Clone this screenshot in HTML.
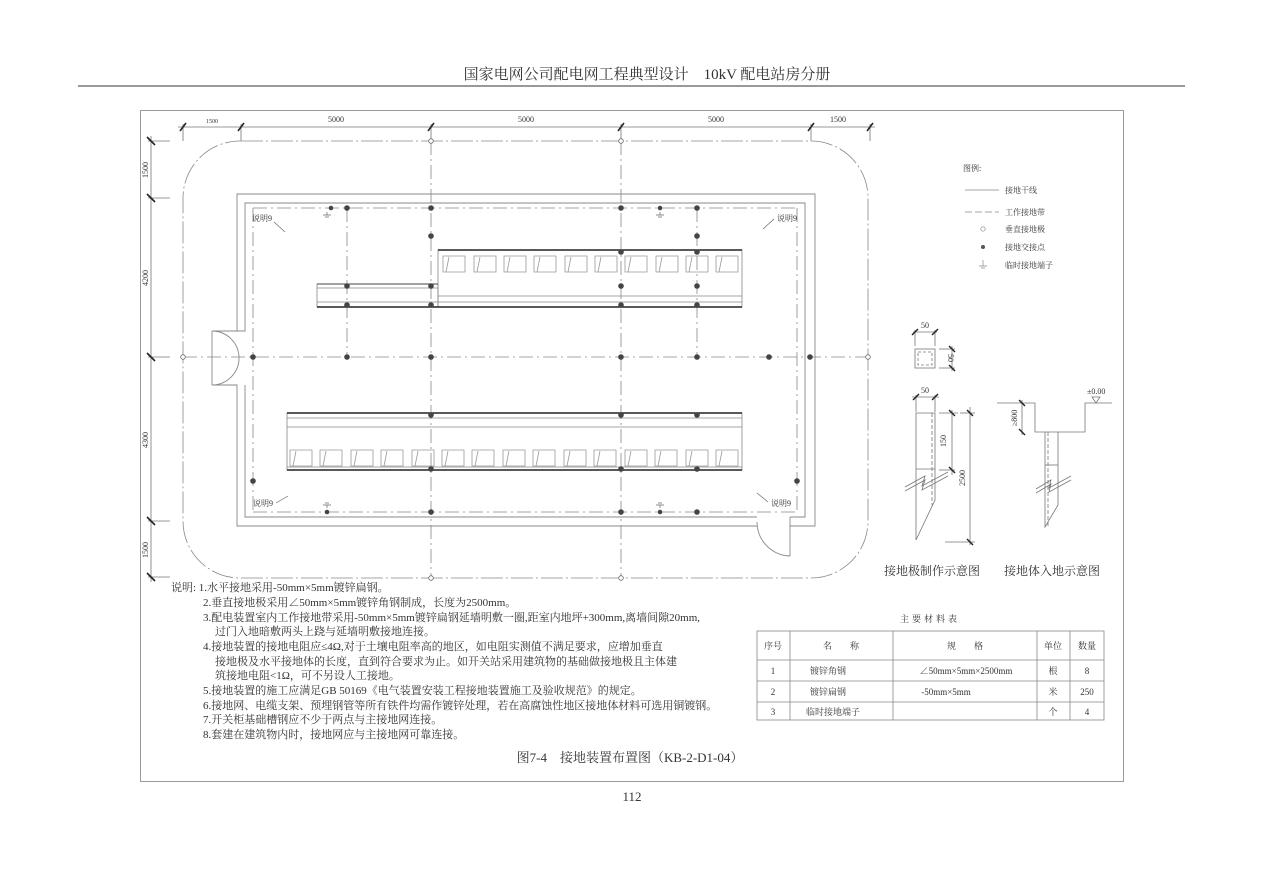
<!DOCTYPE html>
<html><head><meta charset="utf-8"><style>
html,body{margin:0;padding:0;background:#fff}
svg{display:block}
text{font-family:"Liberation Serif","Noto Serif CJK SC","Noto Sans CJK SC",serif;fill:#333}
</style></head><body>
<svg width="1263" height="892" viewBox="0 0 1263 892" xmlns="http://www.w3.org/2000/svg">
<text x="647" y="79" font-size="15" text-anchor="middle">国家电网公司配电网工程典型设计　10kV 配电站房分册</text>
<line x1="78" y1="86" x2="1185" y2="86" stroke="#333" stroke-width="1"/>
<rect x="140.5" y="110.5" width="983" height="671" fill="none" stroke="#999"/>
<text x="632" y="801" font-size="13" text-anchor="middle">112</text>

<g stroke="#777" stroke-width="0.8">
<line x1="178" y1="127" x2="875" y2="127"/>
<line x1="183" y1="124" x2="183" y2="141"/><line x1="241" y1="124" x2="241" y2="141"/>
<line x1="431" y1="124" x2="431" y2="141"/><line x1="621" y1="124" x2="621" y2="141"/>
<line x1="811" y1="124" x2="811" y2="141"/><line x1="870" y1="124" x2="870" y2="141"/>
<line x1="151" y1="136" x2="151" y2="582"/>
<line x1="148" y1="141" x2="170" y2="141"/><line x1="148" y1="198" x2="170" y2="198"/>
<line x1="148" y1="357" x2="170" y2="357"/><line x1="148" y1="521" x2="170" y2="521"/>
<line x1="148" y1="577" x2="170" y2="577"/>
</g>
<g stroke="#222" stroke-width="1.6">
<line x1="180" y1="131" x2="186" y2="123"/><line x1="238" y1="131" x2="244" y2="123"/>
<line x1="428" y1="131" x2="434" y2="123"/><line x1="618" y1="131" x2="624" y2="123"/>
<line x1="808" y1="131" x2="814" y2="123"/><line x1="867" y1="131" x2="873" y2="123"/>
<line x1="147" y1="137" x2="155" y2="145"/><line x1="147" y1="194" x2="155" y2="202"/>
<line x1="147" y1="353" x2="155" y2="361"/><line x1="147" y1="517" x2="155" y2="525"/>
<line x1="147" y1="573" x2="155" y2="581"/>
</g>
<g font-size="8">
<text x="212" y="123" text-anchor="middle" font-size="6">1500</text>
<text x="336" y="122" text-anchor="middle">5000</text>
<text x="526" y="122" text-anchor="middle">5000</text>
<text x="716" y="122" text-anchor="middle">5000</text>
<text x="838" y="122" text-anchor="middle">1500</text>
<text transform="translate(148,170) rotate(-90)" text-anchor="middle">1500</text>
<text transform="translate(148,278) rotate(-90)" text-anchor="middle">4200</text>
<text transform="translate(148,440) rotate(-90)" text-anchor="middle">4300</text>
<text transform="translate(148,550) rotate(-90)" text-anchor="middle">1500</text>
</g>

<path d="M241,141 H811 A57,57 0 0 1 868,198 V521 A57,57 0 0 1 811,578 H241 A57,57 0 0 1 183,521 V198 A57,57 0 0 1 241,141 Z" fill="none" stroke="#888" stroke-width="0.8" stroke-dasharray="22,3,2,3"/>
<g stroke="#888" stroke-width="0.8" stroke-dasharray="14,4,2,4" fill="none">
<line x1="183" y1="357" x2="868" y2="357"/>
<line x1="431" y1="141" x2="431" y2="578"/>
<line x1="621" y1="141" x2="621" y2="578"/>
<line x1="347" y1="208" x2="347" y2="357"/>
<line x1="697" y1="208" x2="697" y2="357"/>
<line x1="253" y1="208" x2="253" y2="512"/>
<line x1="797" y1="208" x2="797" y2="512"/>
<line x1="253" y1="208" x2="797" y2="208"/>
<line x1="253" y1="512" x2="797" y2="512"/>
</g>
<g stroke="#888" stroke-width="0.9" fill="none">
<path d="M212,331 H237 V194 H815 V526 H790"/>
<path d="M237,331 H245 V203 H805 V517 H790"/>
<path d="M757,526 H237 V385 H212"/>
<path d="M757,517 H245 V385"/>
<line x1="212" y1="331" x2="212" y2="385"/>
<path d="M212,331 A27,27 0 0 1 239,357"/>
<path d="M212,385 A27,27 0 0 0 239,357"/>
<line x1="790" y1="517" x2="790" y2="556"/>
<path d="M757,522 A34,34 0 0 0 790,556"/>
</g>

<g stroke="#888" stroke-width="0.8" fill="none">
<rect x="438" y="250" width="304" height="57"/>
<line x1="438" y1="296" x2="742" y2="296"/>
<rect x="317" y="284" width="121" height="23"/>
<line x1="317" y1="288" x2="438" y2="288"/>
<line x1="317" y1="302" x2="742" y2="302"/>
</g>
<line x1="438" y1="250" x2="742" y2="250" stroke="#222" stroke-width="1.6"/>
<line x1="317" y1="307" x2="742" y2="307" stroke="#222" stroke-width="1.4"/>
<line x1="317" y1="284" x2="438" y2="284" stroke="#444" stroke-width="1"/>
<g stroke="#999" stroke-width="0.8" fill="none">
<path d="M443,256 h22 v16 h-22 z M446,272 l3,-15 M474,256 h22 v16 h-22 z M477,272 l3,-15 M504,256 h22 v16 h-22 z M507,272 l3,-15 M534,256 h22 v16 h-22 z M537,272 l3,-15 M565,256 h22 v16 h-22 z M568,272 l3,-15 M595,256 h22 v16 h-22 z M598,272 l3,-15 M625,256 h22 v16 h-22 z M628,272 l3,-15 M656,256 h22 v16 h-22 z M659,272 l3,-15 M686,256 h22 v16 h-22 z M689,272 l3,-15 M716,256 h22 v16 h-22 z M719,272 l3,-15"/>
</g>
<g stroke="#888" stroke-width="0.8" fill="none">
<rect x="287" y="413" width="455" height="57"/>
<line x1="287" y1="418" x2="742" y2="418"/>
<line x1="287" y1="427" x2="742" y2="427"/>
<line x1="287" y1="467" x2="742" y2="467"/>
</g>
<line x1="287" y1="413" x2="742" y2="413" stroke="#222" stroke-width="1.6"/>
<line x1="287" y1="470" x2="742" y2="470" stroke="#222" stroke-width="1.6"/>
<g stroke="#999" stroke-width="0.8" fill="none">
<path d="M290,450 h22 v16 h-22 z M293,466 l3,-15 M320,450 h22 v16 h-22 z M323,466 l3,-15 M351,450 h22 v16 h-22 z M354,466 l3,-15 M381,450 h22 v16 h-22 z M384,466 l3,-15 M412,450 h22 v16 h-22 z M415,466 l3,-15 M442,450 h22 v16 h-22 z M445,466 l3,-15 M472,450 h22 v16 h-22 z M475,466 l3,-15 M503,450 h22 v16 h-22 z M506,466 l3,-15 M533,450 h22 v16 h-22 z M536,466 l3,-15 M564,450 h22 v16 h-22 z M567,466 l3,-15 M594,450 h22 v16 h-22 z M597,466 l3,-15 M625,450 h22 v16 h-22 z M628,466 l3,-15 M655,450 h22 v16 h-22 z M658,466 l3,-15 M686,450 h22 v16 h-22 z M689,466 l3,-15 M716,450 h22 v16 h-22 z M719,466 l3,-15"/>
</g>

<g fill="#444">
<circle cx="331" cy="208" r="2.3"/><circle cx="347" cy="208" r="2.8"/><circle cx="431" cy="208" r="2.8"/>
<circle cx="621" cy="208" r="2.8"/><circle cx="660" cy="208" r="2.3"/><circle cx="697" cy="208" r="2.8"/>
<circle cx="431" cy="236" r="2.8"/><circle cx="697" cy="236" r="2.8"/>
<circle cx="621" cy="252" r="2.8"/><circle cx="697" cy="252" r="2.8"/>
<circle cx="347" cy="286" r="2.8"/><circle cx="431" cy="286" r="2.8"/><circle cx="621" cy="286" r="2.8"/><circle cx="697" cy="286" r="2.8"/>
<circle cx="347" cy="305" r="2.8"/><circle cx="431" cy="305" r="2.8"/><circle cx="621" cy="305" r="2.8"/><circle cx="697" cy="305" r="2.8"/>
<circle cx="253" cy="357" r="2.8"/><circle cx="347" cy="357" r="2.8"/><circle cx="431" cy="357" r="2.8"/>
<circle cx="621" cy="357" r="2.8"/><circle cx="697" cy="357" r="2.8"/><circle cx="769" cy="357" r="2.8"/><circle cx="810" cy="357" r="2.8"/>
<circle cx="431" cy="415" r="2.8"/><circle cx="621" cy="415" r="2.8"/><circle cx="697" cy="415" r="2.8"/>
<circle cx="431" cy="469" r="2.8"/><circle cx="621" cy="469" r="2.8"/><circle cx="697" cy="469" r="2.8"/>
<circle cx="253" cy="481" r="2.8"/><circle cx="797" cy="481" r="2.8"/>
<circle cx="327" cy="512" r="2.3"/><circle cx="431" cy="512" r="2.8"/><circle cx="621" cy="512" r="2.8"/>
<circle cx="660" cy="512" r="2.3"/><circle cx="697" cy="512" r="2.8"/>
</g>
<g fill="#fff" stroke="#666" stroke-width="0.8">
<circle cx="431" cy="141" r="2.3"/><circle cx="621" cy="141" r="2.3"/>
<circle cx="431" cy="578" r="2.3"/><circle cx="621" cy="578" r="2.3"/>
<circle cx="183" cy="357" r="2.3"/><circle cx="868" cy="357" r="2.3"/>
</g>
<g stroke="#666" stroke-width="0.7" fill="none">
<path d="M327,212 v3 M323,215 h8 M325,217 h4"/><path d="M660,212 v3 M656,215 h8 M658,217 h4"/>
<path d="M327,508 v-3 M323,505 h8 M325,503 h4"/><path d="M660,508 v-3 M656,505 h8 M658,503 h4"/>
<line x1="274" y1="222" x2="285" y2="232"/><line x1="763" y1="229" x2="774" y2="219"/>
<line x1="276" y1="503" x2="288" y2="496"/><line x1="757" y1="493" x2="768" y2="502"/>
</g>
<g font-size="8">
<text x="252" y="221">说明9</text><text x="777" y="221">说明9</text>
<text x="253" y="506">说明9</text><text x="771" y="506">说明9</text>
</g>

<g font-size="8">
<text x="963" y="171">图例:</text>
<text x="1005" y="193">接地干线</text>
<text x="1005" y="215">工作接地带</text>
<text x="1005" y="232">垂直接地极</text>
<text x="1005" y="250">接地交接点</text>
<text x="1005" y="268">临时接地端子</text>
</g>
<line x1="965" y1="190" x2="999" y2="190" stroke="#888" stroke-width="0.8"/>
<line x1="965" y1="212" x2="999" y2="212" stroke="#888" stroke-width="0.8" stroke-dasharray="7,3"/>
<circle cx="983" cy="229" r="2.2" fill="none" stroke="#888" stroke-width="0.7"/>
<circle cx="983" cy="247" r="2" fill="#555"/>
<path d="M983,260 v6 M979,266 h8 M981,268 h4" stroke="#888" stroke-width="0.7" fill="none"/>

<g stroke="#777" stroke-width="0.8" fill="none">
<rect x="915" y="349" width="20" height="19"/>
<rect x="918" y="352" width="14" height="13" stroke-dasharray="3,2"/>
<line x1="913" y1="332" x2="937" y2="332"/><line x1="915" y1="330" x2="915" y2="346"/><line x1="935" y1="330" x2="935" y2="346"/>
<line x1="952" y1="346" x2="952" y2="371"/><line x1="939" y1="349" x2="955" y2="349"/><line x1="939" y1="368" x2="955" y2="368"/>
<line x1="912" y1="397" x2="939" y2="397"/><line x1="916" y1="395" x2="916" y2="412"/><line x1="935" y1="395" x2="935" y2="412"/>
<path d="M916,413 H935 V500 L916,540 Z"/>
<line x1="932" y1="413" x2="932" y2="505" stroke-dasharray="4,2"/>
<line x1="916" y1="469" x2="935" y2="469"/>
<path d="M905,487 L925,476 L922,486 L948,472 M905,491 L925,480 L922,490 L948,476"/>
<line x1="952" y1="410" x2="952" y2="475"/><line x1="939" y1="413" x2="958" y2="413"/><line x1="939" y1="470" x2="955" y2="470"/>
<line x1="970" y1="407" x2="970" y2="545"/><line x1="945" y1="542" x2="975" y2="542"/><line x1="960" y1="413" x2="975" y2="413"/>
<path d="M997,403 H1035 V432 H1085 V403 H1112"/>
<line x1="1022" y1="400" x2="1022" y2="435"/>
<path d="M1045,432 V527 L1058,505 V432"/>
<line x1="1048" y1="432" x2="1048" y2="527" stroke-dasharray="4,2"/>
<line x1="1045" y1="465" x2="1058" y2="465"/>
<path d="M1036,489 L1051,480 L1049,488 L1071,476 M1036,493 L1051,484 L1049,492 L1071,480"/>
<path d="M1092,397 l4,6 l4,-6 z"/>
</g>
<g stroke="#222" stroke-width="1.4">
<line x1="912" y1="335" x2="918" y2="329"/><line x1="932" y1="335" x2="938" y2="329"/>
<line x1="949" y1="346" x2="955" y2="352"/><line x1="949" y1="365" x2="955" y2="371"/>
<line x1="913" y1="400" x2="919" y2="394"/><line x1="932" y1="400" x2="938" y2="394"/>
<line x1="949" y1="410" x2="955" y2="416"/><line x1="949" y1="467" x2="955" y2="473"/>
<line x1="967" y1="410" x2="973" y2="416"/><line x1="967" y1="539" x2="973" y2="545"/>
<line x1="1019" y1="400" x2="1025" y2="406"/><line x1="1019" y1="429" x2="1025" y2="435"/>
</g>
<g font-size="8">
<text x="925" y="328" text-anchor="middle">50</text>
<text transform="translate(948,358) rotate(90)" text-anchor="middle">50</text>
<text x="925" y="393" text-anchor="middle">50</text>
<text transform="translate(946,441) rotate(-90)" text-anchor="middle">150</text>
<text transform="translate(965,478) rotate(-90)" text-anchor="middle">2500</text>
<text transform="translate(1017,418) rotate(-90)" text-anchor="middle">≥800</text>
<text x="1087" y="394">±0.00</text>
</g>
<text x="932" y="575" font-size="12" text-anchor="middle">接地极制作示意图</text>
<text x="1052" y="575" font-size="12" text-anchor="middle">接地体入地示意图</text>

<text x="930" y="622" font-size="9" text-anchor="middle" letter-spacing="3">主要材料表</text>
<g stroke="#888" stroke-width="0.8" fill="none">
<rect x="757" y="631" width="347" height="89"/>
<line x1="757" y1="660" x2="1104" y2="660"/><line x1="757" y1="681" x2="1104" y2="681"/><line x1="757" y1="702" x2="1104" y2="702"/>
<line x1="790" y1="631" x2="790" y2="720"/><line x1="893" y1="631" x2="893" y2="720"/>
<line x1="1037" y1="631" x2="1037" y2="720"/><line x1="1070" y1="631" x2="1070" y2="720"/>
</g>
<g font-size="9" text-anchor="middle">
<text x="773" y="649">序号</text><text x="841" y="649">名　　称</text><text x="965" y="649">规　　格</text>
<text x="1053" y="649">单位</text><text x="1087" y="649">数量</text>
<text x="773" y="674">1</text><text x="828" y="674">镀锌角钢</text><text x="966" y="674">∠50mm×5mm×2500mm</text>
<text x="1053" y="674">根</text><text x="1087" y="674">8</text>
<text x="773" y="695">2</text><text x="828" y="695">镀锌扁钢</text><text x="946" y="695">-50mm×5mm</text>
<text x="1053" y="695">米</text><text x="1087" y="695">250</text>
<text x="773" y="715">3</text><text x="833" y="715">临时接地端子</text>
<text x="1053" y="715">个</text><text x="1087" y="715">4</text>
</g>

<g font-size="11">
<text x="171" y="591">说明: 1.水平接地采用-50mm×5mm镀锌扁钢。</text>
<text x="203" y="606">2.垂直接地极采用∠50mm×5mm镀锌角钢制成，长度为2500mm。</text>
<text x="203" y="621">3.配电装置室内工作接地带采用-50mm×5mm镀锌扁钢延墙明敷一圈,距室内地坪+300mm,离墙间隙20mm,</text>
<text x="215" y="635">过门入地暗敷两头上跷与延墙明敷接地连接。</text>
<text x="203" y="650">4.接地装置的接地电阻应≤4Ω,对于土壤电阻率高的地区，如电阻实测值不满足要求，应增加垂直</text>
<text x="215" y="665">接地极及水平接地体的长度，直到符合要求为止。如开关站采用建筑物的基础做接地极且主体建</text>
<text x="215" y="679">筑接地电阻&lt;1Ω，可不另设人工接地。</text>
<text x="203" y="694">5.接地装置的施工应满足GB 50169《电气装置安装工程接地装置施工及验收规范》的规定。</text>
<text x="203" y="709">6.接地网、电缆支架、预埋钢管等所有铁件均需作镀锌处理，若在高腐蚀性地区接地体材料可选用铜镀钢。</text>
<text x="203" y="723">7.开关柜基础槽钢应不少于两点与主接地网连接。</text>
<text x="203" y="738">8.套建在建筑物内时，接地网应与主接地网可靠连接。</text>
</g>
<text x="630" y="762" font-size="13" text-anchor="middle">图7-4　接地装置布置图（KB-2-D1-04）</text>
</svg>
</body></html>
